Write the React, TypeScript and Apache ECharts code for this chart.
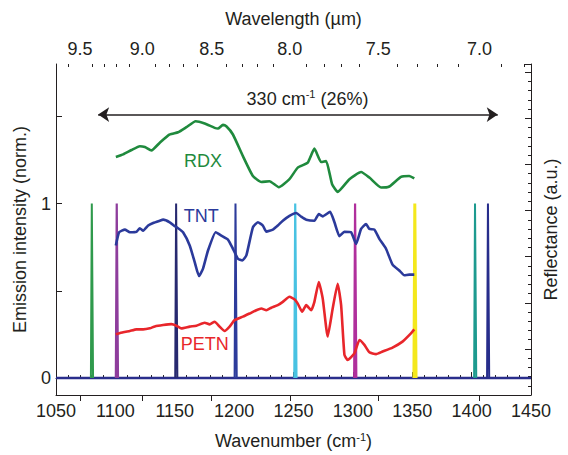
import React, { useEffect, useRef } from "react";
import * as echarts from "echarts";

// ---------- data ----------
const rdxWn = [1100.4, 1106.6, 1113.6, 1120.6, 1124.8, 1130.4, 1137.4, 1145.8, 1152.8, 1159.8, 1167.6, 1175.2, 1183.6, 1186.4, 1190.6, 1193.4, 1199, 1207.4, 1215.8, 1222.9, 1229.8, 1237.6, 1246.6, 1253.6, 1262, 1267.6, 1273.3, 1277.5, 1282.5, 1287.2, 1297.1, 1306.9, 1313.9, 1323.7, 1330.7, 1340.5, 1347.5, 1351.7];
const rdxVal = [1.267, 1.282, 1.307, 1.329, 1.324, 1.305, 1.349, 1.396, 1.409, 1.438, 1.472, 1.459, 1.434, 1.43, 1.451, 1.443, 1.396, 1.272, 1.158, 1.124, 1.128, 1.094, 1.14, 1.206, 1.235, 1.315, 1.238, 1.244, 1.111, 1.067, 1.14, 1.181, 1.149, 1.092, 1.098, 1.153, 1.158, 1.144];

const tntWn = [1100.4, 1103.2, 1108, 1112.2, 1117.8, 1120.6, 1123.4, 1127.6, 1131.8, 1137.4, 1140.2, 1145.8, 1150, 1152.8, 1157, 1162.6, 1166.8, 1170.4, 1173.8, 1178, 1184.5, 1189.2, 1194.8, 1199, 1203.2, 1206.9, 1210.3, 1215.8, 1220, 1224.2, 1227.1, 1232.6, 1236.8, 1241, 1246.6, 1252.3, 1256.5, 1260.7, 1267.6, 1271.3, 1274.6, 1280.8, 1284.5, 1288.7, 1292.9, 1298.5, 1302.7, 1306.9, 1311.1, 1313.9, 1318.1, 1322.3, 1327.9, 1333.4, 1339.1, 1343.3, 1347.5, 1351.7];
const tntVal = [0.76, 0.836, 0.851, 0.836, 0.839, 0.859, 0.845, 0.874, 0.889, 0.902, 0.908, 0.893, 0.87, 0.859, 0.836, 0.76, 0.665, 0.585, 0.627, 0.731, 0.836, 0.817, 0.794, 0.741, 0.684, 0.674, 0.703, 0.864, 0.893, 0.874, 0.839, 0.851, 0.874, 0.902, 0.93, 0.946, 0.925, 0.908, 0.902, 0.94, 0.927, 0.953, 0.893, 0.813, 0.839, 0.836, 0.769, 0.855, 0.883, 0.855, 0.851, 0.798, 0.741, 0.65, 0.617, 0.589, 0.593, 0.593];

const petnWn = [1100.4, 1106.6, 1112.2, 1117.8, 1123.4, 1129, 1133.2, 1140.2, 1147.2, 1151.4, 1155.6, 1162.6, 1168.2, 1175.2, 1179.4, 1183.6, 1187.8, 1192, 1196.2, 1200.4, 1207.4, 1213, 1218.7, 1222.9, 1227.1, 1231.3, 1236.8, 1241, 1246.6, 1250.8, 1253.6, 1257.3, 1260.7, 1264.9, 1267.6, 1271.3, 1274.6, 1278.8, 1283, 1287.2, 1290.1, 1292.9, 1295.6, 1301.3, 1305.5, 1309.7, 1313.9, 1319.5, 1325, 1333.4, 1341.8, 1348.9, 1351.7];
const petnVal = [0.251, 0.262, 0.27, 0.279, 0.279, 0.285, 0.296, 0.304, 0.309, 0.3, 0.285, 0.295, 0.3, 0.317, 0.308, 0.323, 0.295, 0.27, 0.295, 0.332, 0.352, 0.37, 0.389, 0.399, 0.389, 0.403, 0.418, 0.437, 0.466, 0.452, 0.427, 0.38, 0.418, 0.389, 0.437, 0.551, 0.456, 0.238, 0.399, 0.541, 0.418, 0.133, 0.104, 0.142, 0.218, 0.19, 0.148, 0.137, 0.152, 0.175, 0.209, 0.256, 0.279];

const baselineWn = [1050, 1450];
const baselineVal = [0, 0];

const laserWn = [1080.3, 1101.3, 1151.3, 1201.3, 1251.6, 1302, 1352.3, 1403, 1413.9];
const laserPeak = [1, 1, 1, 1, 1, 1, 1, 1, 1];
const laserColors = ["#2f9a4c", "#8e3d9c", "#27296f", "#2d3b9b", "#48c2e2", "#b02f9c", "#f4e81c", "#1d9a8f", "#272d8b"];
const laserWidths = [2, 2.2, 2, 2, 2.2, 2.2, 3, 2, 2];

const bottomTickLabels = [1050, 1100, 1150, 1200, 1250, 1300, 1350, 1400, 1450];
const leftTickValues = [0, 0.5, 1, 1.5];
const leftLabelValues = [0, 1];
const topMajorWavelengths = [9.5, 9.0, 8.5, 8.0, 7.5, 7.0];
const topMinorWavelengths = [9.6, 9.4, 9.3, 9.2, 9.1, 8.9, 8.8, 8.7, 8.6, 8.4, 8.3, 8.2, 8.1, 7.9, 7.8, 7.7, 7.6, 7.4, 7.3, 7.2, 7.1, 6.9, 6.8];

const rangeArrow = { from: 1085.5, to: 1422, level: 1.51 };
const rangeText = "330 cm";

// ---------- styling ----------
const FONT = "'Liberation Sans', Arial, Helvetica, sans-serif";
const INK = "#231f20";
const RDX_C = "#1f8a3d";
const TNT_C = "#2b3a9b";
const PETN_C = "#e8262b";
const BASE_C = "#2a2e8c";
const FS = 18;

const pairs = (xs: number[], ys: number[]) => xs.map((x, i) => [x, ys[i]]);

export default function App() {
  const ref = useRef<HTMLDivElement>(null);

  useEffect(() => {
    if (!ref.current) return;
    const chart = echarts.init(ref.current, null, { renderer: "svg" });

    const labelPoint = (text: string, color: string, x: number, y: number) => ({
      symbol: "circle",
      symbolSize: 1,
      silent: true,
      itemStyle: { color: "rgba(0,0,0,0)" },
      label: { show: true, position: "inside", formatter: text, color, fontSize: FS, fontFamily: FONT },
      data: [{ coord: [x, y] }],
    });

    const spectrum = (name: string, xs: number[], ys: number[], color: string, lbl: any) => ({
      name,
      type: "line",
      data: pairs(xs, ys),
      showSymbol: false,
      smooth: 0.15,
      z: 5,
      lineStyle: { color, width: 2.6 },
      itemStyle: { color },
      markPoint: lbl,
    });

    const peaks = laserWn.map((w, i) => ({
      type: "line",
      data: [
        [w - 0.9, 0],
        [w - 0.15, laserPeak[i]],
        [w + 0.15, laserPeak[i]],
        [w + 0.9, 0],
      ],
      showSymbol: false,
      z: 3,
      lineStyle: { color: laserColors[i], width: laserWidths[i] },
      itemStyle: { color: laserColors[i] },
    }));

    const toWn = (l: number) => 10000 / l;
    const sub = {
      a: { fontSize: FS, color: INK, fontFamily: FONT, verticalAlign: "bottom", lineHeight: 22 },
      s: { fontSize: 11, color: INK, fontFamily: FONT, verticalAlign: "bottom", lineHeight: 22, padding: [0, 0, 8, 0] },
    };

    const option: any = {
      animation: false,
      backgroundColor: "#ffffff",
      textStyle: { fontFamily: FONT, color: INK },
      grid: { left: 56, right: 35, top: 64, bottom: 58, containLabel: false },
      xAxis: [
        {
          type: "value",
          position: "bottom",
          min: bottomTickLabels[0],
          max: bottomTickLabels[bottomTickLabels.length - 1],
          interval: 50,
          axisLine: { show: true, lineStyle: { color: INK, width: 1 } },
          axisTick: { show: true, inside: true, length: 6, lineStyle: { color: INK } },
          minorTick: { show: true, splitNumber: 5, length: 3, lineStyle: { color: INK } },
          axisLabel: { show: true, fontSize: FS, color: INK, margin: 7, fontFamily: FONT, formatter: (v: number) => String(v) },
          splitLine: { show: false },
          name: "{a|Wavenumber (cm}{s|-1}{a|)}",
          nameLocation: "middle",
          nameGap: 33,
          nameTextStyle: { rich: sub },
        },
        {
          type: "value",
          position: "top",
          min: 1030,
          max: 1477,
          axisLine: { show: true, lineStyle: { color: INK, width: 1 } },
          axisTick: { show: true, inside: true, length: 6, lineStyle: { color: INK }, customValues: topMajorWavelengths.map(toWn) },
          axisLabel: {
            show: true,
            fontSize: FS,
            color: INK,
            margin: 6,
            fontFamily: FONT,
            customValues: topMajorWavelengths.map(toWn),
            formatter: (v: number) => (10000 / v).toFixed(1),
          },
          splitLine: { show: false },
          name: "Wavelength (\u00b5m)",
          nameLocation: "middle",
          nameGap: 36,
          nameTextStyle: { fontSize: FS, color: INK, fontFamily: FONT },
        },
        {
          type: "value",
          position: "top",
          min: 1030,
          max: 1477,
          axisLine: { show: false },
          axisTick: { show: true, inside: true, length: 3, lineStyle: { color: INK }, customValues: topMinorWavelengths.map(toWn) },
          axisLabel: { show: false },
          splitLine: { show: false },
        },
      ],
      yAxis: [
        {
          type: "value",
          position: "left",
          min: -0.097,
          max: 1.8,
          axisLine: { show: true, lineStyle: { color: INK, width: 1 } },
          axisTick: { show: true, inside: true, length: 6, lineStyle: { color: INK }, customValues: leftTickValues },
          axisLabel: {
            show: true,
            fontSize: FS,
            color: INK,
            margin: 5,
            fontFamily: FONT,
            customValues: leftLabelValues,
            formatter: (v: number) => String(Math.round(v)),
          },
          splitLine: { show: false },
          name: "Emission intensity (norm.)",
          nameLocation: "middle",
          nameRotate: 90,
          nameGap: 27,
          nameTextStyle: { fontSize: FS, color: INK, fontFamily: FONT },
        },
        {
          type: "value",
          position: "right",
          min: 0,
          max: 7.18,
          interval: 1,
          axisLine: { show: true, lineStyle: { color: INK, width: 1 } },
          axisTick: { show: true, inside: true, length: 6, lineStyle: { color: INK } },
          minorTick: { show: true, splitNumber: 5, length: 3, lineStyle: { color: INK } },
          axisLabel: { show: false },
          splitLine: { show: false },
          minorSplitLine: { show: false },
          name: "Reflectance (a.u.)",
          nameLocation: "middle",
          nameRotate: 90,
          nameGap: 11,
          nameTextStyle: { fontSize: FS, color: INK, fontFamily: FONT },
        },
      ],
      series: [
        {
          name: "baseline",
          type: "line",
          data: pairs(baselineWn, baselineVal),
          showSymbol: false,
          z: 2,
          lineStyle: { color: BASE_C, width: 2.4 },
          itemStyle: { color: BASE_C },
          markLine: {
            silent: true,
            symbol: ["arrow", "arrow"],
            symbolSize: [11, 11],
            label: { show: false },
            lineStyle: { color: INK, width: 1.5, type: "solid" },
            data: [[{ coord: [rangeArrow.from, rangeArrow.level] }, { coord: [rangeArrow.to, rangeArrow.level] }]],
          },
          markPoint: {
            symbol: "circle",
            symbolSize: 1,
            silent: true,
            itemStyle: { color: "rgba(0,0,0,0)" },
            label: {
              show: true,
              position: "inside",
              formatter: "{a|" + rangeText + "}{s|-1}{a| (26%)}",
              rich: sub,
            },
            data: [{ coord: [1261.8, 1.613] }],
          },
        },
        ...peaks,
        spectrum("RDX", rdxWn, rdxVal, RDX_C, labelPoint("RDX", RDX_C, 1173.8, 1.244)),
        spectrum("TNT", tntWn, tntVal, TNT_C, labelPoint("TNT", TNT_C, 1172.4, 0.93)),
        spectrum("PETN", petnWn, petnVal, PETN_C, labelPoint("PETN", PETN_C, 1175.2, 0.194)),
      ],
    };

    chart.setOption(option);
    return () => chart.dispose();
  }, []);

  return <div ref={ref} style={{ position: "fixed", left: 0, top: 0, width: 568, height: 455, background: "#fff" }} />;
}
